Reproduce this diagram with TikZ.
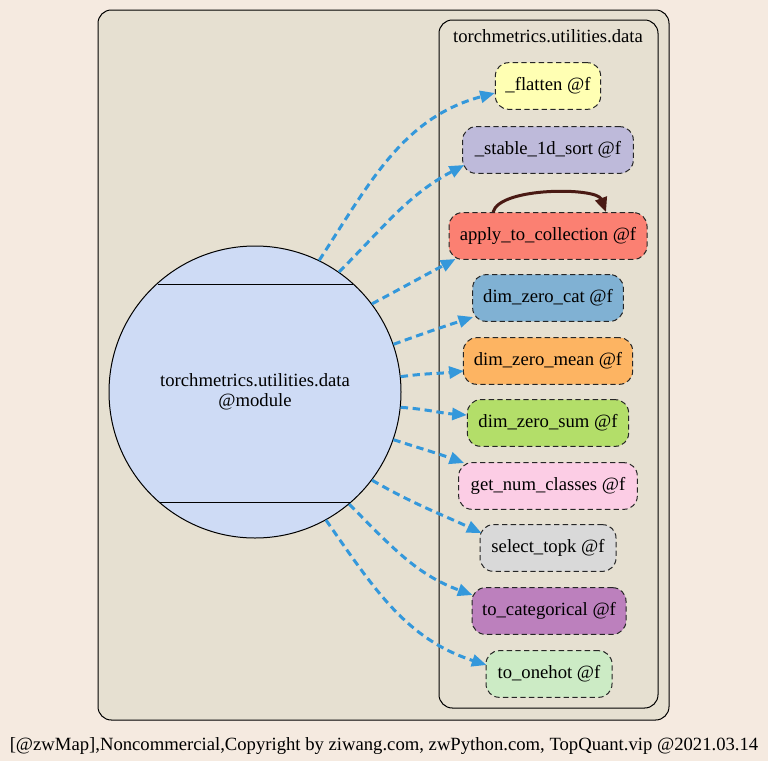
\documentclass[tikz,border=0pt]{standalone}
\usepackage{fontspec}
\setmainfont{Liberation Serif}
\usetikzlibrary{arrows.meta,calc}
\definecolor{pagebg}{HTML}{F5EAE0}
\definecolor{clusterbg}{HTML}{E6E0D1}
\definecolor{modfill}{HTML}{CEDBF5}
\definecolor{edgeblue}{HTML}{3498DB}
\definecolor{loopbrown}{HTML}{4A1A14}
\definecolor{cA}{HTML}{FFFFB3}
\definecolor{cB}{HTML}{BEBADA}
\definecolor{cC}{HTML}{FB8072}
\definecolor{cD}{HTML}{80B1D3}
\definecolor{cE}{HTML}{FDB462}
\definecolor{cF}{HTML}{B3DE69}
\definecolor{cG}{HTML}{FCCDE5}
\definecolor{cH}{HTML}{D9D9D9}
\definecolor{cI}{HTML}{BC80BD}
\definecolor{cJ}{HTML}{CCEBC5}
\begin{document}
\begin{tikzpicture}[x=0.75pt,y=0.75pt,
  font=\fontsize{14}{15}\selectfont,
  fbox/.style={draw=black!85, dash pattern=on 4pt off 2.5pt, rounded corners=10pt,
    line width=0.75pt, minimum height=35pt, inner sep=0pt, align=center},
  dep/.style={draw=edgeblue, line width=2.25pt, dash pattern=on 5.5pt off 3.5pt,
    -{Triangle[length=11pt,width=9pt]}},
  selfloop/.style={draw=loopbrown, line width=2.25pt,
    -{Triangle[length=11pt,width=9pt]}},
  cluster/.style={draw=black, line width=0.75pt, rounded corners=10pt, fill=clusterbg}]
\useasboundingbox (0,0) rectangle (768,-761);
\fill[pagebg] (0,0) rectangle (768,-761);
% clusters
\draw[cluster] (98,-10) rectangle (669,-720);
\draw[cluster] (439,-20) rectangle (658,-708);
\node (cl) at (548,-36) {torchmetrics.utilities.data};
% module node
\node[circle, draw=black, line width=0.75pt, fill=modfill, minimum size=219pt,
  inner sep=0pt, align=center] (m) at (255,-392)
  {torchmetrics.utilities.data\\@module};
\draw[line width=0.75pt] ($(m.center)+(-97.5,108)$) -- ($(m.center)+(97.5,108)$);
\draw[line width=0.75pt] ($(m.center)+(-96,-110)$) -- ($(m.center)+(96,-110)$);
% function nodes
\node[fbox, fill=cA, minimum width=79pt]    (f1)  at (548,-86)  {\_flatten @f};
\node[fbox, fill=cB, minimum width=128pt]   (f2)  at (548,-150) {\_stable\_1d\_sort @f};
\node[fbox, fill=cC, minimum width=148.5pt] (f3)  at (548,-236) {apply\_to\_collection @f};
\node[fbox, fill=cD, minimum width=113pt]   (f4)  at (548,-298) {dim\_zero\_cat @f};
\node[fbox, fill=cE, minimum width=127pt]   (f5)  at (548,-361) {dim\_zero\_mean @f};
\node[fbox, fill=cF, minimum width=121pt]   (f6)  at (548,-423) {dim\_zero\_sum @f};
\node[fbox, fill=cG, minimum width=134pt]   (f7)  at (548,-486) {get\_num\_classes @f};
\node[fbox, fill=cH, minimum width=102pt]   (f8)  at (548,-548) {select\_topk @f};
\node[fbox, fill=cI, minimum width=115.5pt] (f9)  at (549,-611) {to\_categorical @f};
\node[fbox, fill=cJ, minimum width=94.5pt]  (f10) at (549,-674) {to\_onehot @f};
% self loop
\draw[selfloop] ($(f3.north)+(-55,0)$) to[out=75,in=110,looseness=0.6] ($(f3.north)+(58,0)$);
% edges
\draw[dep] (m.64)  to[out=57,in=195]  ($(f1.west)+(0,-7)$);
\draw[dep] (m.55)  to[out=45,in=208]  ($(f2.west)+(2,-15)$);
\draw[dep] (m.37)  to[out=28,in=208]  ($(f3.west)+(7,-23)$);
\draw[dep] (m.19)  to[out=20,in=198]  ($(f4.west)+(1,-19)$);
\draw[dep] (m.6.6) to[out=8,in=186]   ($(f5.west)+(1,-10)$);
\draw[dep] (m.-6.3) to[out=-4,in=176] ($(f6.west)+(0,8)$);
\draw[dep] (m.-19) to[out=-18,in=160] ($(f7.west)+(6,23)$);
\draw[dep] (m.-37) to[out=-30,in=155] ($(f8.west)+(2,15)$);
\draw[dep] (m.-50) to[out=-45,in=160] ($(f9.west)+(1,16)$);
\draw[dep] (m.-61) to[out=-55,in=162] ($(f10.west)+(1,9)$);
% caption
\node (cap) at (384,-746) {[@zwMap],Noncommercial,Copyright by ziwang.com, zwPython.com, TopQuant.vip @2021.03.14};
\end{tikzpicture}
\end{document}
